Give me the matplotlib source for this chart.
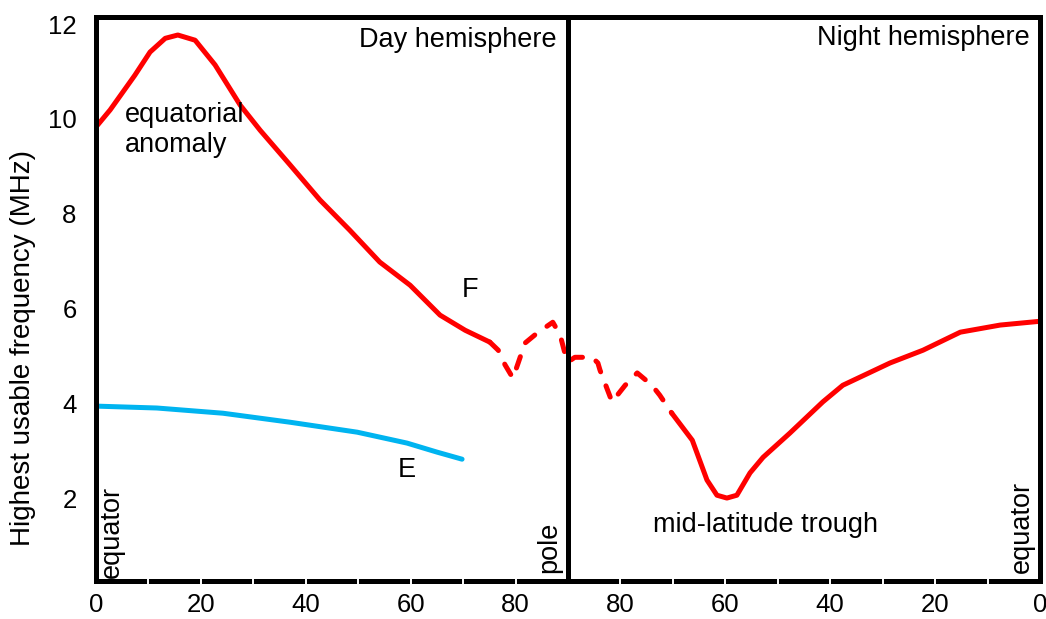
import matplotlib.pyplot as plt
from matplotlib.ticker import FixedLocator

plt.rcParams['font.family'] = ['Liberation Sans', 'DejaVu Sans']

# latitude (deg) and highest usable frequency (MHz)
f_day_lat = [0, 2.7, 7.4, 10.3, 13.2, 15.6, 18.9, 22.7, 27.5, 31.3, 37.0, 42.7,
             48.4, 54.1, 59.9, 65.6, 70.4, 75.1]
f_day_mhz = [9.83, 10.19, 10.92, 11.41, 11.70, 11.77, 11.66, 11.14, 10.29, 9.76,
             9.03, 8.29, 7.65, 6.98, 6.49, 5.86, 5.54, 5.29]

# uncertain stretch over the polar cap (day side then night side)
f_polar_day_lat = [75.1, 76.7, 78.0, 79.5, 80.5, 81.8, 84.1, 87.1, 88.5, 89.4, 90.0]
f_polar_day_mhz = [5.29, 5.12, 4.81, 4.53, 4.85, 5.27, 5.48, 5.71, 5.44, 5.06, 4.87]
f_polar_night_lat = [88.7, 85.4, 84.3, 83.9, 82.6, 81.6, 79.1, 76.8, 74.0, 72.5, 70.2]
f_polar_night_mhz = [4.97, 4.97, 4.85, 4.70, 4.32, 4.03, 4.38, 4.64, 4.38, 4.17, 3.79]

f_night_lat = [70.2, 66.3, 63.5, 61.6, 59.7, 57.8, 55.3, 52.8, 47.7, 41.4, 37.6,
               28.6, 22.3, 15.2, 7.6, 0]
f_night_mhz = [3.79, 3.22, 2.38, 2.06, 2.00, 2.06, 2.53, 2.86, 3.37, 4.03, 4.38,
               4.85, 5.12, 5.50, 5.65, 5.73]

e_day_lat = [0, 11.6, 24.2, 37.0, 49.8, 59.3, 65.0, 69.8]
e_day_mhz = [3.94, 3.90, 3.79, 3.60, 3.39, 3.16, 2.97, 2.82]

tick_pos = [0, 20, 40, 60, 80, 100, 120, 140, 160, 180]
tick_labels = ['0', '20', '40', '60', '80', '80', '60', '40', '20', '0']


def night(lats):
    # night side runs back from the pole (90) to the equator (180)
    return [180 - v for v in lats]


RED = '#ff0000'
BLUE = '#00b4f0'
LW = 3.6
FS = 19.5

fig = plt.figure(figsize=(10.46, 6.19), dpi=100)
ax = fig.add_axes([96 / 1046, 38 / 619, 944 / 1046, 564 / 619])

ax.plot(f_day_lat, f_day_mhz, color=RED, lw=LW, solid_capstyle='round',
        solid_joinstyle='round')
ax.plot(f_polar_day_lat + night(f_polar_night_lat),
        f_polar_day_mhz + f_polar_night_mhz,
        color=RED, lw=LW, dashes=(2.4, 3.0), dash_capstyle='round',
        dash_joinstyle='round')
ax.plot(night(f_night_lat), f_night_mhz, color=RED, lw=LW, solid_capstyle='round',
        solid_joinstyle='round')
ax.plot(e_day_lat, e_day_mhz, color=BLUE, lw=LW, solid_capstyle='round',
        solid_joinstyle='round')

ax.axvline(90, color='black', lw=3.6)

ax.set_xlim(0, 180)
ax.set_ylim(0.25, 12.15)

for s in ax.spines.values():
    s.set_linewidth(3.6)

ax.set_xticks(tick_pos)
ax.set_xticklabels(tick_labels)
ax.xaxis.set_minor_locator(FixedLocator([v for v in range(10, 180, 10) if v != 90]))
ax.xaxis.remove_overlapping_locs = False
ax.tick_params(axis='x', which='major', length=0, pad=9, labelsize=18.5)
ax.tick_params(axis='x', which='minor', direction='inout', length=7, width=1.4,
               color='white')
ax.xaxis.set_zorder(3)

ax.set_yticks([2, 4, 6, 8, 10, 12])
ax.tick_params(axis='y', length=0, pad=14, labelsize=18.5)

ax.set_ylabel('Highest usable frequency (MHz)', fontsize=20)
ax.yaxis.set_label_coords(-0.064, 0.413)

ax.text(87.9, 11.66, 'Day hemisphere', fontsize=FS, ha='right', va='center')
ax.text(178.1, 11.7, 'Night hemisphere', fontsize=FS, ha='right', va='center')
ax.text(5.5, 9.76, 'equatorial\nanomaly', fontsize=FS, ha='left', va='center',
        linespacing=1.2)
ax.text(71.3, 6.39, 'F', fontsize=FS, ha='center', va='center')
ax.text(59.3, 2.59, 'E', fontsize=FS, ha='center', va='center')
ax.text(106.2, 1.43, 'mid-latitude trough', fontsize=FS, ha='left', va='center')
ax.text(3.05, 0.32, 'equator', fontsize=FS, rotation=90, ha='center', va='bottom')
ax.text(86.4, 0.42, 'pole', fontsize=FS, rotation=90, ha='center', va='bottom')
ax.text(176.6, 0.42, 'equator', fontsize=FS, rotation=90, ha='center', va='bottom')

fig.savefig('out.png', dpi=100)
